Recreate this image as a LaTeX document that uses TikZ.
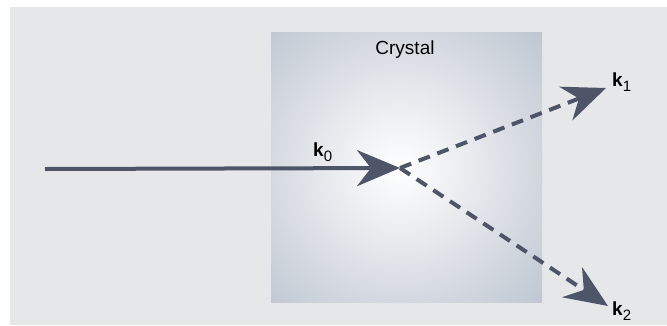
\documentclass[tikz,border=0pt]{standalone}
\usepackage{fontspec}
\setmainfont{Liberation Sans}
\usetikzlibrary{arrows.meta}
\definecolor{bg}{RGB}{230,231,233}
\definecolor{cgray}{RGB}{148,160,178}
\definecolor{arr}{RGB}{79,85,104}
\newcommand{\kvec}[1]{\textbf{k}\raisebox{-5pt}{\fontsize{15}{15}\selectfont #1}}
\begin{document}
\begin{tikzpicture}[x=1pt,y=-1pt,
  beam/.style={line width=4pt, draw=arr, -{Stealth[length=43pt,width=36pt,inset=14pt]}},
  dbeam/.style={beam, dash pattern=on 12pt off 8pt},
  lab/.style={inner sep=0pt, font=\fontsize{19}{22}\selectfont, text=black}]
\useasboundingbox (0,0) rectangle (667,325);
\fill[bg] (10,7) rectangle (667,325);
\begin{scope}
  \clip (271,32) rectangle (542,302);
  \shade[inner color=white, outer color=cgray] (400,168) circle (330pt);
\end{scope}
\node[lab] (crystal) at (405,50) {Crystal};
\coordinate (start) at (45,169);
\coordinate (c) at (400,168);
\coordinate (k1tip) at (606,88);
\coordinate (k2tip) at (608,306);
\draw[beam] (start) -- (c);
\draw[dbeam] (c) -- (k1tip);
\draw[dbeam] (c) -- (k2tip);
\node[lab, anchor=north west] (k0) at (313,143) {\kvec{0}};
\node[lab, anchor=north west] (k1) at (612,73) {\kvec{1}};
\node[lab, anchor=north west] (k2) at (612,302) {\kvec{2}};
\end{tikzpicture}
\end{document}
